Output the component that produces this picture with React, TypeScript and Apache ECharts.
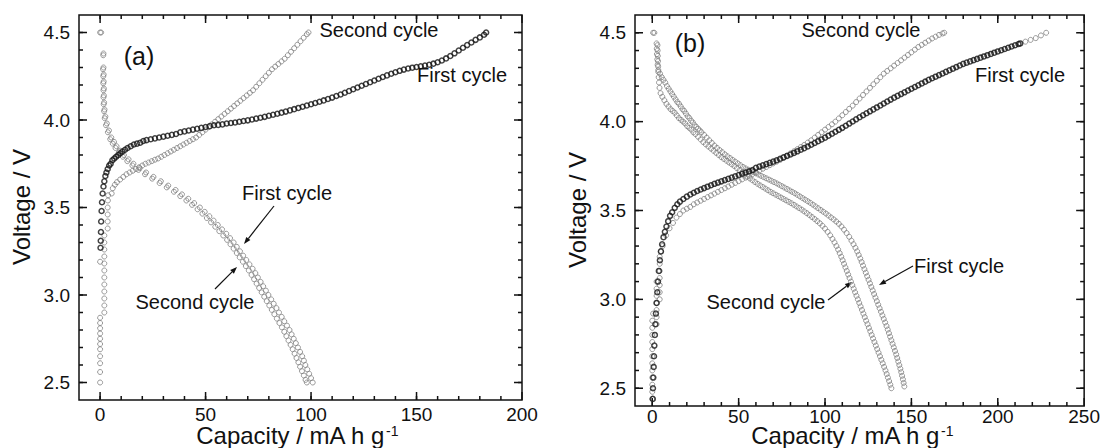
import React, { useEffect, useRef } from "react";
import * as echarts from "echarts";

const FONT = '"Liberation Sans", Arial, Helvetica, sans-serif';
const INK = "#111";
const GRAY = "#808080";
const DARK = "#141414";

// ---------- Panel (a) : [capacity (mA h/g), voltage (V)] ----------
const aCharge1: number[][] = [
  [0.2, 3.27], [0.3, 3.31], [0.4, 3.36], [0.5, 3.42], [0.7, 3.48], [0.9, 3.53], [1.2, 3.58], [1.6, 3.62],
  [2.0, 3.65], [2.5, 3.68], [3.0, 3.70], [3.6, 3.72], [4.3, 3.74], [5.0, 3.75], [5.8, 3.77], [6.7, 3.78],
  [7.6, 3.79], [8.6, 3.80], [9.6, 3.81], [10.6, 3.82], [11.8, 3.83], [13, 3.84], [14.5, 3.85], [16, 3.86],
  [17.5, 3.865], [19, 3.87], [20.5, 3.88], [22, 3.885], [24, 3.89], [26, 3.895], [28, 3.9], [30, 3.905],
  [32, 3.91], [34, 3.915], [36, 3.92], [38, 3.93], [40, 3.935], [42, 3.94], [44, 3.945], [46, 3.95],
  [48, 3.955], [50, 3.96], [52, 3.965], [54, 3.97], [56, 3.972], [58, 3.975], [60, 3.98], [62, 3.983],
  [64, 3.986], [66, 3.99], [68, 3.994], [70, 3.998], [72, 4.003], [74, 4.008], [76, 4.013], [78, 4.018],
  [80, 4.024], [82, 4.03], [84, 4.036], [86, 4.042], [88, 4.048], [90, 4.055], [92, 4.062], [94, 4.069],
  [96, 4.076], [98, 4.083], [100, 4.09], [102, 4.097], [104, 4.104], [106, 4.112], [108, 4.12], [110, 4.128],
  [112, 4.137], [114, 4.146], [116, 4.156], [118, 4.166], [120, 4.176], [122, 4.186], [124, 4.196], [126, 4.206],
  [128, 4.216], [130, 4.226], [132, 4.236], [134, 4.246], [136, 4.255], [138, 4.264], [140, 4.273], [142, 4.281],
  [144, 4.288], [146, 4.294], [148, 4.299], [150, 4.303], [152, 4.307], [154, 4.311], [156, 4.316], [158, 4.322],
  [160, 4.33], [162, 4.34], [164, 4.352], [166, 4.366], [168, 4.381], [170, 4.397], [172, 4.413], [174, 4.428],
  [176, 4.443], [178, 4.458], [180, 4.472], [182, 4.487], [183, 4.5],
];

const aCharge2: number[][] = [
  [0, 2.5], [0, 2.56], [0, 2.61], [0, 2.65], [0, 2.69], [0, 2.72], [0, 2.75], [0, 2.78], [0, 2.81], [0, 2.84],
  [0, 2.87], [0, 3.19], [2, 2.9], [2, 2.94], [2, 2.98], [2, 3.02], [2, 3.06], [2, 3.1], [2, 3.14], [2, 3.18],
  [2, 3.22], [2, 3.26], [2, 3.3], [2, 3.34], [3.6, 3.38], [3.6, 3.42], [3.6, 3.46], [3.6, 3.5], [3.7, 3.54],
  [3.8, 3.57], [5.5, 3.58], [6, 3.61], [7, 3.63], [8, 3.645], [9.5, 3.66], [11, 3.675], [12.5, 3.69], [14, 3.7],
  [15.5, 3.71], [17, 3.72], [18.5, 3.73], [20, 3.74], [21.5, 3.75], [23, 3.757], [24.5, 3.765], [26, 3.773],
  [27.5, 3.78], [29, 3.79], [30.5, 3.8], [32, 3.81], [33.5, 3.82], [35, 3.83], [36.5, 3.84], [38, 3.85],
  [39.5, 3.86], [41, 3.87], [42.5, 3.88], [44, 3.89], [45.5, 3.9], [47, 3.915], [48.5, 3.93], [50, 3.945],
  [51.5, 3.96], [53, 3.975], [54.5, 3.99], [56, 4.005], [57.5, 4.02], [59, 4.035], [60.5, 4.05], [62, 4.065],
  [63.5, 4.08], [65, 4.095], [66.5, 4.11], [68, 4.125], [69.5, 4.14], [71, 4.155], [72.5, 4.17], [74, 4.19],
  [75.5, 4.21], [77, 4.23], [78.5, 4.25], [80, 4.27], [81.5, 4.29], [83, 4.305], [84.5, 4.32], [86, 4.335],
  [87.5, 4.35], [89, 4.37], [90.5, 4.39], [92, 4.41], [93.5, 4.43], [95, 4.45], [96.5, 4.47], [98, 4.49], [98.8, 4.5],
];

const aDischarge1: number[][] = [
  [0.5, 4.5], [1.6, 4.38], [1.6, 4.3], [1.7, 4.26], [1.7, 4.22], [1.8, 4.18], [1.8, 4.14], [1.9, 4.1],
  [2.1, 4.06], [2.5, 4.02], [3.2, 3.98], [4.2, 3.94], [5.3, 3.9], [6.6, 3.875], [7.8, 3.85], [9.5, 3.825],
  [11.3, 3.8], [13.5, 3.775], [15.8, 3.75], [18.8, 3.725], [21.8, 3.7], [25.3, 3.675], [28.8, 3.65], [32.3, 3.625],
  [35.8, 3.6], [38.8, 3.575], [41.8, 3.55], [44.6, 3.525], [47.3, 3.5], [49.6, 3.475], [51.8, 3.45], [53.8, 3.425],
  [55.8, 3.4], [57.8, 3.375], [59.8, 3.35], [61.6, 3.325], [63.3, 3.3], [64.8, 3.275], [66.3, 3.25], [67.8, 3.225],
  [69.3, 3.2], [70.8, 3.175], [72.3, 3.15], [73.6, 3.125], [74.8, 3.1], [76.1, 3.075], [77.3, 3.05], [78.6, 3.025],
  [79.8, 3.0], [81.1, 2.975], [82.3, 2.95], [83.6, 2.925], [84.8, 2.9], [86.1, 2.875], [87.3, 2.85], [88.6, 2.825],
  [89.8, 2.8], [90.8, 2.775], [91.8, 2.75], [92.8, 2.725], [93.8, 2.7], [94.8, 2.675], [95.8, 2.65], [96.6, 2.625],
  [97.3, 2.6], [98.2, 2.575], [99.1, 2.55], [100, 2.525], [100.8, 2.5],
];

const aDischarge2: number[][] = [
  [0, 4.5], [1.5, 4.37], [1.4, 4.29], [1.5, 4.25], [1.5, 4.21], [1.6, 4.17], [1.6, 4.13], [1.7, 4.09],
  [1.9, 4.05], [2.2, 4.01], [2.8, 3.97], [3.7, 3.93], [4.8, 3.89], [6.0, 3.865], [7.3, 3.84], [8.9, 3.815],
  [10.8, 3.79], [12.9, 3.765], [15.3, 3.74], [18.2, 3.715], [21.3, 3.69], [24.7, 3.665], [28.2, 3.64], [31.6, 3.615],
  [35.0, 3.59], [38.0, 3.565], [40.9, 3.54], [43.6, 3.515], [46.2, 3.49], [48.5, 3.465], [50.6, 3.44], [52.6, 3.415],
  [54.6, 3.39], [56.5, 3.365], [58.4, 3.34], [60.2, 3.315], [61.8, 3.29], [63.3, 3.265], [64.8, 3.24], [66.2, 3.215],
  [67.7, 3.19], [69.1, 3.165], [70.5, 3.14], [71.8, 3.115], [73.0, 3.09], [74.2, 3.065], [75.4, 3.04], [76.6, 3.015],
  [77.8, 2.99], [79.0, 2.965], [80.2, 2.94], [81.4, 2.915], [82.6, 2.89], [83.8, 2.865], [85.0, 2.84], [86.2, 2.815],
  [87.3, 2.79], [88.3, 2.765], [89.3, 2.74], [90.3, 2.715], [91.3, 2.69], [92.2, 2.665], [93.1, 2.64], [94.0, 2.615],
  [94.8, 2.59], [95.7, 2.565], [96.6, 2.54], [97.4, 2.515], [98.0, 2.5],
];

// ---------- Panel (b) ----------
const bCharge1: number[][] = [
  [0.3, 2.44], [0.4, 2.5], [0.6, 2.56], [0.8, 2.62], [1.0, 2.68], [1.2, 2.74], [1.5, 2.8], [1.8, 2.86],
  [2.1, 2.92], [2.5, 2.98], [2.9, 3.04], [3.3, 3.1], [3.8, 3.16], [4.4, 3.22], [5.0, 3.27], [5.7, 3.31],
  [6.5, 3.35], [7.3, 3.38], [8.2, 3.41], [9.2, 3.44], [10.3, 3.47], [11.5, 3.49], [13, 3.515], [14.5, 3.535],
  [16, 3.55], [18, 3.565], [20, 3.578], [22, 3.59], [24, 3.6], [26, 3.61], [28, 3.618], [30, 3.626],
  [32, 3.634], [34, 3.642], [36, 3.65], [38, 3.657], [40, 3.664], [42, 3.671], [44, 3.678], [46, 3.685],
  [48, 3.692], [50, 3.7], [52, 3.707], [54, 3.714], [56, 3.72], [58, 3.727], [60, 3.74], [62, 3.747],
  [64, 3.754], [66, 3.761], [68, 3.768], [70, 3.775], [72, 3.783], [74, 3.791], [76, 3.799], [78, 3.807],
  [80, 3.815], [82, 3.824], [84, 3.833], [86, 3.842], [88, 3.851], [90, 3.86], [92, 3.87], [94, 3.88],
  [96, 3.89], [98, 3.9], [100, 3.91], [102, 3.921], [104, 3.932], [106, 3.943], [108, 3.954], [110, 3.965],
  [112, 3.977], [114, 3.989], [116, 4.001], [118, 4.013], [120, 4.025], [122, 4.036], [124, 4.047], [126, 4.058],
  [128, 4.069], [130, 4.08], [132, 4.091], [134, 4.102], [136, 4.113], [138, 4.124], [140, 4.135], [142, 4.145],
  [144, 4.155], [146, 4.165], [148, 4.175], [150, 4.185], [152, 4.195], [154, 4.205], [156, 4.215], [158, 4.225],
  [160, 4.235], [162, 4.244], [164, 4.253], [166, 4.262], [168, 4.271], [170, 4.28], [172, 4.289], [174, 4.298],
  [176, 4.307], [178, 4.316], [180, 4.325], [182, 4.332], [184, 4.339], [186, 4.346], [188, 4.353], [190, 4.36],
  [192, 4.367], [194, 4.374], [196, 4.381], [198, 4.388], [200, 4.395], [202, 4.402], [204, 4.409], [206, 4.416],
  [208, 4.423], [210, 4.43], [212, 4.437], [213, 4.44],
];
const bCharge1Tail: number[][] = [[216, 4.45], [219, 4.46], [222, 4.47], [225, 4.485], [228, 4.5]];

const bCharge2: number[][] = [
  [0, 2.44], [0, 2.48], [0, 2.52], [0, 2.56], [0, 2.6], [0, 2.64], [0, 2.68], [0, 2.72], [0, 2.76], [0, 2.8],
  [0, 2.84], [0, 2.88], [0.5, 2.92], [2.5, 2.86], [2.5, 2.9], [2.5, 2.94], [2.5, 2.98], [2.5, 3.02], [2.5, 3.06],
  [2.5, 3.1], [4.3, 3.0], [4.3, 3.04], [4.3, 3.08], [4.3, 3.12], [4.3, 3.16], [4.3, 3.2], [4.3, 3.24], [5, 3.27],
  [6, 3.3], [8, 3.36], [10, 3.4], [12, 3.43], [14, 3.46], [16, 3.48], [18, 3.5], [20, 3.51], [22, 3.52],
  [24, 3.535], [26, 3.545], [28, 3.555], [30, 3.565], [32, 3.575], [34, 3.585], [36, 3.595], [38, 3.605],
  [40, 3.615], [42, 3.625], [44, 3.635], [46, 3.645], [48, 3.655], [50, 3.665], [52, 3.675], [54, 3.685],
  [56, 3.695], [58, 3.705], [60, 3.715], [62, 3.725], [64, 3.735], [66, 3.745], [68, 3.755], [70, 3.765],
  [72, 3.775], [74, 3.785], [76, 3.797], [78, 3.809], [80, 3.821], [82, 3.833], [84, 3.845], [86, 3.857],
  [88, 3.869], [90, 3.882], [92, 3.895], [94, 3.91], [96, 3.925], [98, 3.94], [100, 3.955], [102, 3.97],
  [104, 3.985], [106, 4.0], [108, 4.018], [110, 4.036], [112, 4.054], [114, 4.072], [116, 4.09], [118, 4.11],
  [120, 4.13], [122, 4.15], [124, 4.17], [126, 4.19], [128, 4.21], [130, 4.23], [132, 4.25], [134, 4.27],
  [136, 4.285], [138, 4.3], [140, 4.315], [142, 4.33], [144, 4.345], [146, 4.36], [148, 4.375], [150, 4.39],
  [152, 4.405], [154, 4.42], [156, 4.432], [158, 4.444], [160, 4.456], [162, 4.468], [164, 4.478], [166, 4.488],
  [168, 4.496], [169, 4.5],
];

const bDischarge1: number[][] = [
  [0.5, 4.5], [2.5, 4.44], [2.6, 4.41], [2.7, 4.38], [2.9, 4.35], [3.1, 4.32], [3.5, 4.29], [4.5, 4.27],
  [5.5, 4.25], [6.5, 4.235], [7.5, 4.22], [8.5, 4.2], [9.5, 4.185], [10.5, 4.17], [11.5, 4.155], [12.5, 4.14],
  [13.5, 4.125], [14.5, 4.11], [15.5, 4.1], [16.5, 4.085], [17.5, 4.07], [18.5, 4.06], [19.5, 4.045], [20.5, 4.03],
  [21.5, 4.02], [22.5, 4.005], [23.5, 3.995], [24.5, 3.98], [25.5, 3.97], [26.5, 3.96], [27.5, 3.95], [28.5, 3.94],
  [30, 3.925], [31.5, 3.91], [33, 3.895], [34.5, 3.88], [36, 3.865], [37.5, 3.852], [39, 3.84], [40.5, 3.828],
  [42, 3.816], [43.5, 3.805], [45, 3.795], [46.5, 3.785], [48, 3.775], [49.5, 3.765], [51, 3.755], [52.5, 3.745],
  [54, 3.737], [55.5, 3.73], [57, 3.723], [58.5, 3.716], [60, 3.709], [61.5, 3.702], [63, 3.695], [64.5, 3.688],
  [66, 3.681], [67.5, 3.674], [69, 3.667], [70.5, 3.66], [72, 3.653], [73.5, 3.645], [75, 3.637], [76.5, 3.629],
  [78, 3.621], [79.5, 3.613], [81, 3.605], [82.5, 3.597], [84, 3.588], [85.5, 3.579], [87, 3.57], [88.5, 3.561],
  [90, 3.552], [91.5, 3.543], [93, 3.533], [94.5, 3.523], [96, 3.513], [97.5, 3.503], [99, 3.493], [100.5, 3.483],
  [102, 3.472], [103.5, 3.461], [105, 3.45], [106.5, 3.438], [108, 3.425], [109.5, 3.41], [111, 3.392], [112.5, 3.373],
  [114, 3.352], [115.3, 3.33], [116.5, 3.31], [117.6, 3.29], [118.6, 3.27], [119.5, 3.25], [120.4, 3.23], [121.2, 3.21],
  [122, 3.19], [122.8, 3.17], [123.6, 3.15], [124.4, 3.13], [125.2, 3.11], [126, 3.09], [126.8, 3.07], [127.6, 3.05],
  [128.4, 3.03], [129.2, 3.01], [130, 2.99], [130.8, 2.97], [131.6, 2.95], [132.4, 2.93], [133.2, 2.91], [134, 2.89],
  [134.8, 2.87], [135.6, 2.85], [136.3, 2.83], [137, 2.81], [137.7, 2.79], [138.4, 2.77], [139.1, 2.75], [139.8, 2.73],
  [140.5, 2.71], [141.2, 2.69], [141.8, 2.67], [142.4, 2.65], [143, 2.63], [143.6, 2.61], [144.1, 2.59], [144.6, 2.57],
  [145.1, 2.55], [145.5, 2.53], [145.9, 2.51],
];

const bDischarge2: number[][] = [
  [1.2, 4.5], [3, 4.43], [3.1, 4.4], [3.2, 4.37], [3.3, 4.34], [3.4, 4.31], [3.5, 4.28], [3.7, 4.25],
  [3.9, 4.22], [4.2, 4.19], [4.8, 4.16], [5.8, 4.14], [7, 4.12], [8.2, 4.1], [9.4, 4.085], [10.6, 4.07],
  [11.8, 4.06], [13, 4.05], [14.2, 4.035], [15.4, 4.02], [16.6, 4.01], [17.8, 4.0], [19, 3.99], [20.2, 3.975],
  [21.4, 3.965], [22.6, 3.955], [23.8, 3.94], [25, 3.93], [26.5, 3.915], [28, 3.9], [29.5, 3.885], [31, 3.872],
  [32.5, 3.86], [34, 3.848], [35.5, 3.836], [37, 3.824], [38.5, 3.812], [40, 3.8], [41.5, 3.79], [43, 3.78],
  [44.5, 3.77], [46, 3.76], [47.5, 3.75], [49, 3.738], [50.5, 3.726], [52, 3.714], [53.5, 3.702], [55, 3.69],
  [56.5, 3.68], [58, 3.67], [59.5, 3.66], [61, 3.65], [62.5, 3.641], [64, 3.632], [65.5, 3.623], [67, 3.614],
  [68.5, 3.605], [70, 3.597], [71.5, 3.589], [73, 3.581], [74.5, 3.573], [76, 3.565], [77.5, 3.557], [79, 3.549],
  [80.5, 3.541], [82, 3.532], [83.5, 3.523], [85, 3.514], [86.5, 3.505], [88, 3.495], [89.5, 3.485], [91, 3.474],
  [92.5, 3.463], [94, 3.452], [95.5, 3.44], [97, 3.428], [98.5, 3.414], [100, 3.398], [101.5, 3.38], [103, 3.36],
  [104.3, 3.34], [105.5, 3.32], [106.6, 3.3], [107.6, 3.28], [108.5, 3.26], [109.4, 3.24], [110.2, 3.22], [111, 3.2],
  [111.8, 3.18], [112.6, 3.16], [113.4, 3.14], [114.2, 3.12], [115, 3.1], [115.8, 3.08], [116.6, 3.06], [117.4, 3.04],
  [118.2, 3.02], [119, 3.0], [119.8, 2.98], [120.6, 2.96], [121.4, 2.94], [122.2, 2.92], [123, 2.9], [123.8, 2.88],
  [124.6, 2.86], [125.4, 2.84], [126.2, 2.82], [127, 2.8], [127.8, 2.78], [128.6, 2.76], [129.4, 2.74], [130.2, 2.72],
  [131, 2.7], [131.8, 2.68], [132.6, 2.66], [133.4, 2.64], [134.2, 2.62], [135, 2.6], [135.7, 2.58], [136.4, 2.56],
  [137.1, 2.54], [137.8, 2.52], [138.4, 2.5],
];

// ---------- Axes ----------
const yRange = [2.4, 4.6];
const yTickLabels = [2.5, 3.0, 3.5, 4.0, 4.5];
const xRangeA = [-10, 200];
const xTickLabelsA = [0, 50, 100, 150, 200];
const xRangeB = [-10, 250];
const xTickLabelsB = [0, 50, 100, 150, 200, 250];
const xMinorStep = 10;
const yMinorStep = 0.1;

function stepsWithin(range: number[], step: number) {
  const out: number[] = [];
  const start = Math.ceil(range[0] / step - 1e-9);
  const end = Math.floor(range[1] / step + 1e-9);
  for (let i = start; i <= end; i++) out.push(Math.round(i * step * 1000) / 1000);
  return out;
}

function scatter(data: number[][], color: string, z: number, bw = 1) {
  return {
    type: "scatter",
    xAxisIndex: 0,
    yAxisIndex: 0,
    data,
    symbol: "circle",
    symbolSize: 5,
    z,
    itemStyle: { color: "rgba(0,0,0,0)", borderColor: color, borderWidth: bw },
  };
}

function txt(text: string, x: number, y: number, size = 20) {
  return {
    type: "text",
    x,
    y,
    style: { text, fontSize: size, fontFamily: FONT, fill: INK, align: "center", verticalAlign: "middle" },
  };
}

function arrow(x1: number, y1: number, x2: number, y2: number) {
  const dx = x2 - x1, dy = y2 - y1;
  const len = Math.sqrt(dx * dx + dy * dy);
  const ux = dx / len, uy = dy / len;
  const L = 7, w = 2.6;
  const bx = x2 - ux * L, by = y2 - uy * L;
  return [
    { type: "line", shape: { x1, y1, x2: bx, y2: by }, style: { stroke: INK, lineWidth: 1.2 } },
    {
      type: "polygon",
      shape: { points: [[x2, y2], [bx - uy * w, by + ux * w], [bx + uy * w, by - ux * w]] },
      style: { fill: INK },
    },
  ];
}

function xTitle(x: number) {
  return {
    type: "text",
    x,
    y: 435,
    style: {
      text: "{m|Capacity / mA h g}{s|-1}",
      align: "center",
      verticalAlign: "middle",
      rich: {
        m: { fontSize: 24, fontFamily: FONT, fill: INK, lineHeight: 22 },
        s: { fontSize: 14, fontFamily: FONT, fill: INK, verticalAlign: "top", lineHeight: 10, padding: [0, 0, 0, 1] },
      },
    },
  };
}

function yTitle(x: number, y: number) {
  return {
    type: "text",
    x,
    y,
    rotation: Math.PI / 2,
    style: { text: "Voltage / V", fontSize: 24, fontFamily: FONT, fill: INK, align: "center", verticalAlign: "middle" },
  };
}

type Cfg = {
  grid: { left: number; top: number; width: number; height: number };
  xRange: number[];
  xTicks: number[];
  xLabelMargin: number;
  series: any[];
  annotations: any[];
};

function baseOption(c: Cfg) {
  return {
    animation: false,
    grid: [c.grid],
    xAxis: [{
      type: "value", gridIndex: 0, min: c.xRange[0], max: c.xRange[1], position: "bottom",
      splitLine: { show: false }, axisLine: { show: false, onZero: false }, axisTick: { show: false },
      axisLabel: { show: true, customValues: c.xTicks.slice(), margin: c.xLabelMargin, fontSize: 19, color: INK, fontFamily: FONT },
    }],
    yAxis: [{
      type: "value", gridIndex: 0, min: yRange[0], max: yRange[1], position: "left",
      splitLine: { show: false }, axisLine: { show: false, onZero: false }, axisTick: { show: false },
      axisLabel: {
        show: true, customValues: yTickLabels.slice(), margin: 9, fontSize: 19, color: INK, fontFamily: FONT,
        formatter: (v: number) => v.toFixed(1),
      },
    }],
    series: c.series,
  };
}

// Frame and inward ticks, placed through the chart's own scales.
function frame(chart: any, c: Cfg) {
  const px = (x: number, y: number) => chart.convertToPixel({ xAxisIndex: 0, yAxisIndex: 0 }, [x, y]) as number[];
  const tl = px(c.xRange[0], yRange[1]);
  const br = px(c.xRange[1], yRange[0]);
  if (!tl || !br) return [];
  const L = tl[0], T = tl[1], R = br[0], B = br[1];
  const st = { stroke: INK, lineWidth: 1.5 };
  const out: any[] = [
    { type: "rect", shape: { x: L, y: T, width: R - L, height: B - T }, style: { fill: "none", stroke: INK, lineWidth: 1.5 } },
  ];
  const xt = (v: number, len: number) => {
    const X = px(v, yRange[0])[0];
    out.push({ type: "line", shape: { x1: X, y1: B, x2: X, y2: B - len }, style: st });
    out.push({ type: "line", shape: { x1: X, y1: T, x2: X, y2: T + len }, style: st });
  };
  const yt = (v: number, len: number) => {
    const Y = px(c.xRange[0], v)[1];
    out.push({ type: "line", shape: { x1: L, y1: Y, x2: L + len, y2: Y }, style: st });
    out.push({ type: "line", shape: { x1: R, y1: Y, x2: R - len, y2: Y }, style: st });
  };
  stepsWithin(c.xRange, xMinorStep).forEach((v) => { if (v > c.xRange[0] && v < c.xRange[1]) xt(v, 4); });
  c.xTicks.forEach((v) => xt(v, 8));
  stepsWithin(yRange, yMinorStep).forEach((v) => { if (v > yRange[0] + 1e-6 && v < yRange[1] - 1e-6) yt(v, 4); });
  yTickLabels.forEach((v) => yt(v, 8));
  return out;
}

const OB = 551; // left offset of the panel (b) container

const cfgA: Cfg = {
  grid: { left: 79, top: 15, width: 443, height: 385 },
  xRange: xRangeA,
  xTicks: xTickLabelsA,
  xLabelMargin: 5,
  series: [
    scatter(aDischarge2, GRAY, 2),
    scatter(aDischarge1, GRAY, 2),
    scatter(aCharge2, GRAY, 3),
    scatter(aCharge1, DARK, 4, 1.5),
  ],
  annotations: [
    txt("(a)", 139, 56, 25),
    txt("Second cycle", 379, 30),
    txt("First cycle", 462, 75),
    txt("First cycle", 287, 193),
    txt("Second cycle", 195, 302),
    ...arrow(274, 206, 244, 244),
    ...arrow(215, 289, 237, 267),
    xTitle(297),
    yTitle(21, 207),
  ],
};

const cfgB: Cfg = {
  grid: { left: 635 - OB, top: 15, width: 452, height: 391 },
  xRange: xRangeB,
  xTicks: xTickLabelsB,
  xLabelMargin: 1,
  series: [
    scatter(bDischarge2, GRAY, 2),
    scatter(bDischarge1, GRAY, 2),
    scatter(bCharge2, GRAY, 3),
    scatter(bCharge1Tail, GRAY, 3),
    scatter(bCharge1, DARK, 4, 1.5),
  ],
  annotations: [
    txt("(b)", 690 - OB, 43, 25),
    txt("Second cycle", 861 - OB, 30),
    txt("First cycle", 1020 - OB, 75),
    txt("First cycle", 959 - OB, 266),
    txt("Second cycle", 766 - OB, 302),
    ...arrow(913 - OB, 266, 879 - OB, 285),
    ...arrow(828 - OB, 300, 852 - OB, 282),
    xTitle(852 - OB),
    yTitle(577 - OB, 210),
  ],
};

function Panel({ cfg, left, width }: { cfg: Cfg; left: number; width: number }) {
  const ref = useRef<HTMLDivElement>(null);
  useEffect(() => {
    if (!ref.current) return;
    const chart = echarts.init(ref.current, null, { renderer: "svg" });
    chart.setOption(baseOption(cfg));
    let fr: any[] = [];
    try { fr = frame(chart, cfg); } catch (e) { fr = []; }
    chart.setOption({ graphic: [...cfg.annotations, ...fr] });
    return () => chart.dispose();
  }, []);
  return <div ref={ref} style={{ position: "absolute", left, top: 0, width, height: 448 }} />;
}

export default function App() {
  return (
    <div style={{ position: "fixed", left: 0, top: 0, width: 1103, height: 448, background: "#fff" }}>
      <Panel cfg={cfgA} left={0} width={OB} />
      <Panel cfg={cfgB} left={OB} width={1103 - OB} />
    </div>
  );
}
